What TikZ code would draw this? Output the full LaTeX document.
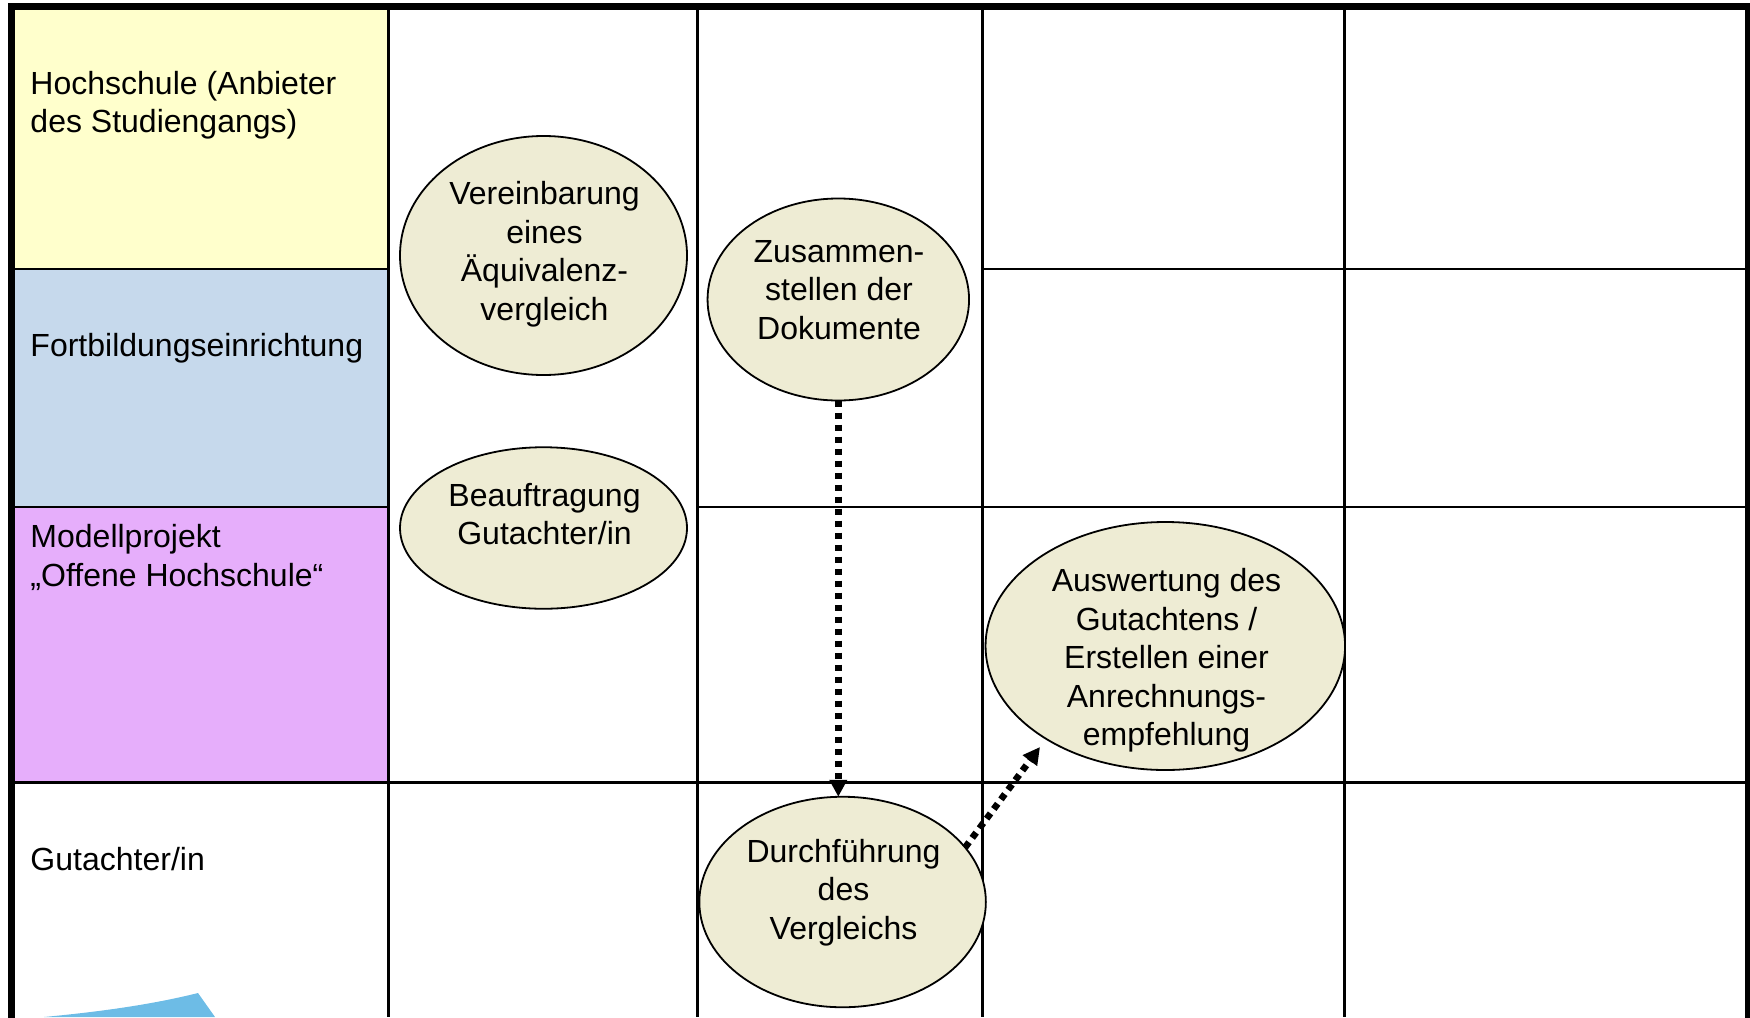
\documentclass[tikz,border=0pt]{standalone}
\usepackage{fontspec}
\setmainfont{Liberation Sans}
\usetikzlibrary{shapes.geometric,arrows.meta}
\definecolor{cellyellow}{HTML}{FFFFCC}
\definecolor{cellblue}{HTML}{C6D9EC}
\definecolor{cellpurple}{HTML}{E6AEFB}
\definecolor{ellfill}{HTML}{EEECD4}
\definecolor{wedge}{HTML}{6DBCE6}
\tikzset{
  x=1pt,y=-1pt,
  txt/.style={font=\fontsize{32}{38.5}\selectfont,inner sep=0pt,outer sep=0pt,align=left,text=black},
  lanelabel/.style={txt,anchor=base west},
  proc/.style={ellipse,draw=black,line width=1.8pt,fill=ellfill,inner sep=0pt,outer sep=0pt},
  proctext/.style={txt,align=center,anchor=center},
  gridline/.style={draw=black,line width=2.8pt},
  frameline/.style={draw=black,line width=7pt},
  flow/.style={draw=black,line width=6.6pt,dash pattern=on 6.5pt off 5.5pt,line cap=butt,-{Triangle[length=17pt,width=17pt]}},
}
\begin{document}
\begin{tikzpicture}
\useasboundingbox (0,0) rectangle (1750,1017);
\clip (0,0) rectangle (1750,1017);
% cell fills
\fill[cellyellow] (15,10) rectangle (388,269);
\fill[cellblue] (15,269) rectangle (388,507);
\fill[cellpurple] (15,507) rectangle (388,782.5);
% wedge
\fill[wedge] (44,1017) .. controls (97,1012) and (150,1005) .. (198,993) -- (215,1017) -- cycle;
% grid
\draw[gridline] (388.5,7) -- (388.5,1017);
\draw[gridline] (697.5,7) -- (697.5,1017);
\draw[gridline] (982.5,7) -- (982.5,1017);
\draw[gridline] (1344.5,7) -- (1344.5,1017);
\draw[gridline] (12,269) -- (388.5,269);
\draw[gridline] (982.5,269) -- (1748,269);
\draw[gridline] (12,507) -- (388.5,507);
\draw[gridline] (697.5,507) -- (1748,507);
\draw[gridline] (12,782.5) -- (1748,782.5);
% frame
\draw[frameline] (11.75,1030) -- (11.75,6.75) -- (1748.25,6.75) -- (1748.25,1030);
% lane labels
\node[lanelabel] (l1) at (30.5,132.5) {Hochschule (Anbieter\\des Studiengangs)};
\node[lanelabel] (l2) at (30.5,356.5) {Fortbildungseinrichtung};
\node[lanelabel] (l3) at (30.5,586) {Modellprojekt\\„Offene Hochschule“};
\node[lanelabel] (l4) at (30.5,870) {Gutachter/in};
% processes
\node[proc,minimum width=287pt,minimum height=239pt] (a) at (543.5,255.5) {};
\node[proc,minimum width=287pt,minimum height=161.5pt] (b) at (543.5,528) {};
\node[proc,minimum width=261.5pt,minimum height=202pt] (c) at (838.3,299.5) {};
\node[proc,minimum width=359.5pt,minimum height=248pt] (e) at (1165.3,646) {};
\node[proc,minimum width=286.5pt,minimum height=210.5pt] (d) at (842.6,902) {};
\node[proctext] (at) at (544.5,254) {Vereinbarung\\eines\\Äquivalenz-\\vergleich};
\node[proctext] (bt) at (544.5,514) {Beauftragung\\Gutachter/in};
\node[proctext] (ct) at (839,290) {Zusammen-\\stellen der\\Dokumente};
\node[proctext] (et) at (1166.5,660.5) {Auswertung des\\Gutachtens /\\Erstellen einer\\Anrechnungs-\\empfehlung};
\node[proctext] (dt) at (843.5,892.5) {Durchführung\\des\\Vergleichs};
% flows
\coordinate (etip) at (1040,747);
\draw[flow] (c.south) -- (c.south |- d.north);
\draw[flow] (d.24) -- (etip);
\end{tikzpicture}
\end{document}
